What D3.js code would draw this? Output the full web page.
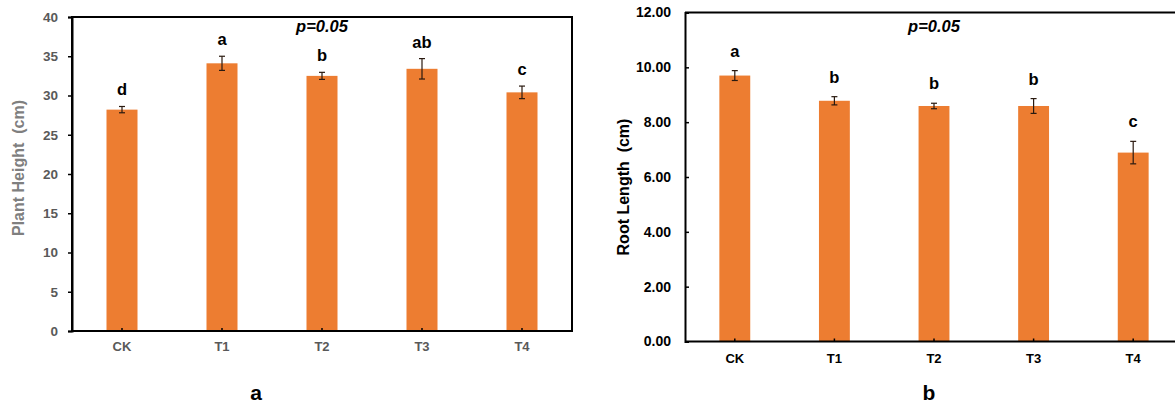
<!DOCTYPE html>
<html>
<head>
<meta charset="utf-8">
<script src="https://cdn.jsdelivr.net/npm/d3@7"></script>
<style>
  html, body { margin: 0; padding: 0; background: #fff; }
  svg { display: block; font-family: "Liberation Sans", Arial, sans-serif; }
</style>
</head>
<body>
<svg id="chart" width="1175" height="406"></svg>
<script>
// ---- data ----
const categories = ["CK", "T1", "T2", "T3", "T4"];

const heightMeans   = [28.2, 34.1, 32.5, 33.4, 30.4];
const heightErrors  = [0.4, 0.9, 0.45, 1.3, 0.8];
const heightLetters = ["d", "a", "b", "ab", "c"];
const heightTicks   = [0, 5, 10, 15, 20, 25, 30, 35, 40];

const rootMeans   = [9.70, 8.78, 8.59, 8.59, 6.89];
const rootErrors  = [0.18, 0.15, 0.10, 0.27, 0.41];
const rootLetters = ["a", "b", "b", "b", "c"];
const rootTicks   = [0, 2, 4, 6, 8, 10, 12];

const pLabel = "p=0.05";

// ---- drawing ----
const svg = d3.select("#chart");
const barColor = "#ED7D31";

function panel(opt) {
  const g = svg.append("g");
  const x = d3.scaleBand().domain(categories)
    .range([opt.x0, opt.x1]).paddingInner(0.69).paddingOuter(0.345);
  const y = d3.scaleLinear().domain([0, d3.max(opt.ticks)]).range([opt.yb, opt.yt]);

  // frame
  if (opt.box) {
    g.append("rect").attr("x", opt.x0).attr("y", opt.yt)
      .attr("width", opt.x1 - opt.x0).attr("height", opt.yb - opt.yt)
      .attr("fill", "none").attr("stroke", "#000").attr("stroke-width", 2);
  } else {
    g.append("line").attr("x1", opt.x0).attr("x2", opt.x1 + 20)
      .attr("y1", opt.yt).attr("y2", opt.yt)
      .attr("stroke", "#000").attr("stroke-width", 2);
  }

  // bars
  g.selectAll("rect.bar").data(categories).enter().append("rect")
    .attr("class", "bar")
    .attr("x", d => x(d))
    .attr("width", x.bandwidth())
    .attr("y", (d, i) => y(opt.means[i]))
    .attr("height", (d, i) => y(0) - y(opt.means[i]))
    .attr("fill", barColor);

  // error bars
  const eg = g.selectAll("g.err").data(categories).enter().append("g")
    .attr("stroke", "#2a1a10").attr("stroke-width", 1.2);
  const cx = d => x(d) + x.bandwidth() / 2;
  eg.append("line")
    .attr("x1", cx).attr("x2", cx)
    .attr("y1", (d, i) => y(opt.means[i] + opt.errs[i]))
    .attr("y2", (d, i) => y(opt.means[i] - opt.errs[i]));
  [1, -1].forEach(s => {
    eg.append("line")
      .attr("x1", d => cx(d) - 3).attr("x2", d => cx(d) + 3)
      .attr("y1", (d, i) => y(opt.means[i] + s * opt.errs[i]))
      .attr("y2", (d, i) => y(opt.means[i] + s * opt.errs[i]));
  });

  // significance letters
  g.selectAll("text.letter").data(categories).enter().append("text")
    .attr("x", cx)
    .attr("y", (d, i) => y(opt.means[i] + opt.errs[i]) - opt.gap)
    .attr("text-anchor", "middle")
    .attr("font-size", 16.5).attr("font-weight", "bold").attr("fill", "#000")
    .text((d, i) => opt.letters[i]);

  // y axis
  const yAxis = d3.axisLeft(y).tickValues(opt.ticks)
    .tickFormat(opt.fmt).tickSize(opt.yTickOut ? 4 : -4).tickPadding(opt.yTickOut ? 10 : 14);
  const ya = g.append("g").attr("transform", `translate(${opt.x0},0)`).call(yAxis);
  ya.select(".domain").attr("stroke", "#000").attr("stroke-width", 2);
  ya.selectAll(".tick line").attr("stroke", "#000").attr("stroke-width", 1.5);
  ya.selectAll(".tick text").attr("font-size", opt.tickSize).attr("font-weight", "bold")
    .attr("fill", opt.tickColor).attr("font-family", "Liberation Sans, Arial, sans-serif");

  // x axis
  const xAxis = d3.axisBottom(x).tickSize(-3).tickPadding(opt.xPad);
  const xa = g.append("g").attr("transform", `translate(0,${opt.yb})`).call(xAxis);
  xa.select(".domain").remove();
  g.append("line").attr("x1", opt.x0).attr("x2", opt.box ? opt.x1 : opt.x1 + 20)
    .attr("y1", opt.yb).attr("y2", opt.yb).attr("stroke", "#000").attr("stroke-width", 2);
  xa.selectAll(".tick line").attr("stroke", "#000").attr("stroke-width", 1.5);
  xa.selectAll(".tick text").attr("font-size", 13).attr("font-weight", "bold")
    .attr("fill", opt.tickColor).attr("font-family", "Liberation Sans, Arial, sans-serif");

  // y title
  g.append("text")
    .attr("transform", `translate(${opt.titleX},${opt.titleY}) rotate(-90)`)
    .attr("text-anchor", "middle").attr("dominant-baseline", "middle")
    .attr("font-size", 16).attr("font-weight", "bold").attr("fill", opt.titleColor)
    .attr("xml:space", "preserve")
    .text(opt.title);

  // p label
  g.append("text").attr("x", cx("T2")).attr("y", opt.pY)
    .attr("text-anchor", "middle").attr("font-size", 16.5)
    .attr("font-weight", "bold").attr("font-style", "italic").attr("fill", "#000")
    .text(pLabel);

  // panel label
  g.append("text").attr("x", opt.subX).attr("y", opt.subY)
    .attr("text-anchor", "middle").attr("font-size", 21)
    .attr("font-weight", "bold").attr("fill", "#000")
    .text(opt.sub);
}

panel({
  x0: 72, x1: 572, yt: 17, yb: 331,
  means: heightMeans, errs: heightErrors, letters: heightLetters, ticks: heightTicks,
  fmt: d3.format("d"), box: true, yTickOut: true, gap: 11,
  tickColor: "#595959", tickSize: 13.5, titleColor: "#7f7f7f",
  title: "Plant Height  (cm)", titleX: 20, titleY: 168,
  xPad: 11, pY: 32, sub: "a", subX: 256, subY: 400
});

panel({
  x0: 685, x1: 1183, yt: 12.5, yb: 341.5,
  means: rootMeans, errs: rootErrors, letters: rootLetters, ticks: rootTicks,
  fmt: d3.format(".2f"), box: false, yTickOut: false, gap: 14,
  tickColor: "#000", tickSize: 14, titleColor: "#000",
  title: "Root Length  (cm)", titleX: 625, titleY: 187,
  xPad: 12.5, pY: 32, sub: "b", subX: 929, subY: 400
});
</script>
</body>
</html>
